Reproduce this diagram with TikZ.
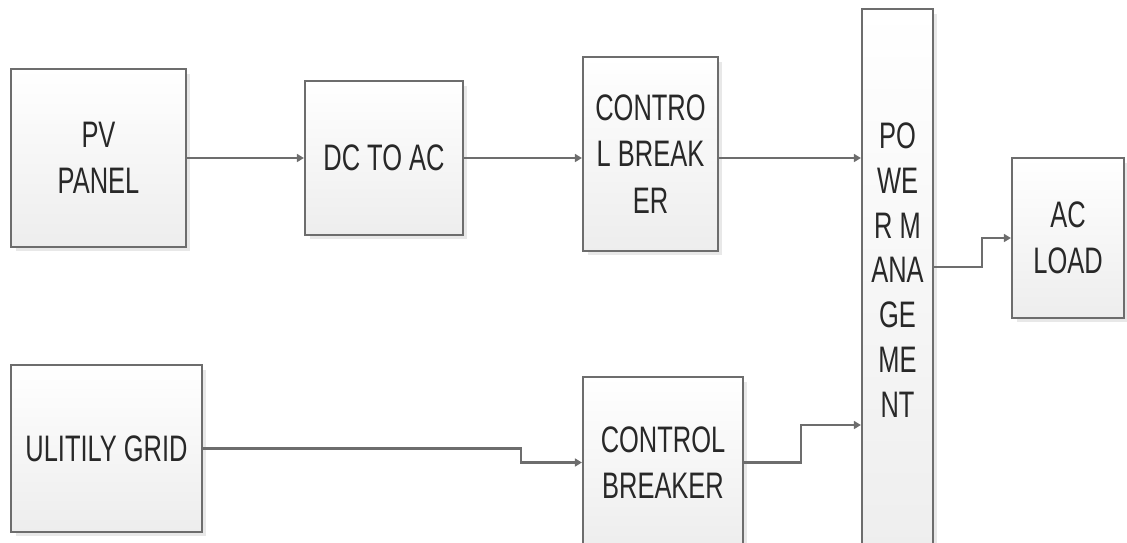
\documentclass[tikz,border=0pt]{standalone}
\usepackage{fontspec}
\usetikzlibrary{arrows.meta,positioning,shadows,calc}
\newfontfamily\blockfont{Liberation Sans}[FakeStretch=0.69]
\definecolor{edge}{RGB}{109,109,109}
\definecolor{ink}{RGB}{40,40,40}
\tikzset{
  >={Triangle[length=4pt,width=4.5pt]},
  block/.style={draw=edge,line width=1.2pt,top color=white,bottom color=black!7,
    align=center,inner sep=1pt,text=ink,font=\blockfont\fontsize{21}{26.5}\selectfont,
    general shadow={fill=black!9,shadow xshift=0.09cm,shadow yshift=-0.09cm}},
  btext/.style={align=center,inner sep=0pt,text=ink,font=\blockfont\fontsize{21}{25.5}\selectfont},
  link/.style={->,draw=edge,line width=1.2pt},
}
\begin{document}
\begin{tikzpicture}[x=0.02cm,y=-0.02cm]
  \useasboundingbox (0,0) rectangle (1127,542);
  % top row
  \node[block,minimum width=3.5cm,minimum height=3.56cm] (pv) at (98.5,158) {PV\\PANEL};
  \node[block,minimum width=3.16cm,minimum height=3.08cm] (dcac) at (384,158) {DC TO AC};
  \node[block,minimum width=2.7cm,minimum height=3.88cm] (cbA) at (650.5,154) {CONTRO\\L BREAK\\ER};
  % power management column and load
  \node[block,minimum width=1.42cm,minimum height=11.42cm] (pm) at (897.5,294.5) {};
  \node[btext] (pmtxt) at (897.5,270) {PO\\WE\\R M\\ANA\\GE\\ME\\NT};
  \node[block,minimum width=2.24cm,minimum height=3.2cm] (acload) at (1068,238) {AC\\LOAD};
  % bottom row
  \node[block,minimum width=3.82cm,minimum height=3.34cm] (grid) at (106.5,448.5) {ULITILY GRID};
  \node[block,minimum width=3.2cm,minimum height=3.42cm] (cbB) at (663,462.5) {CONTROL\\BREAKER};

  \draw[link] (pv.east) -- (dcac.west);
  \draw[link] (dcac.east) -- (dcac.east -| cbA.west);
  \draw[link] (cbA.east |- dcac.east) -- (pm.west |- dcac.east);
  \draw[link] (pm.east |- 0,267) -- ++(48,0) |- (acload.west);
  \draw[link] (grid.east) -- ++(318,0) |- (cbB.west);
  \draw[link] (cbB.east) -- ++(57,0) |- (pm.west |- 0,425);
\end{tikzpicture}
\end{document}
